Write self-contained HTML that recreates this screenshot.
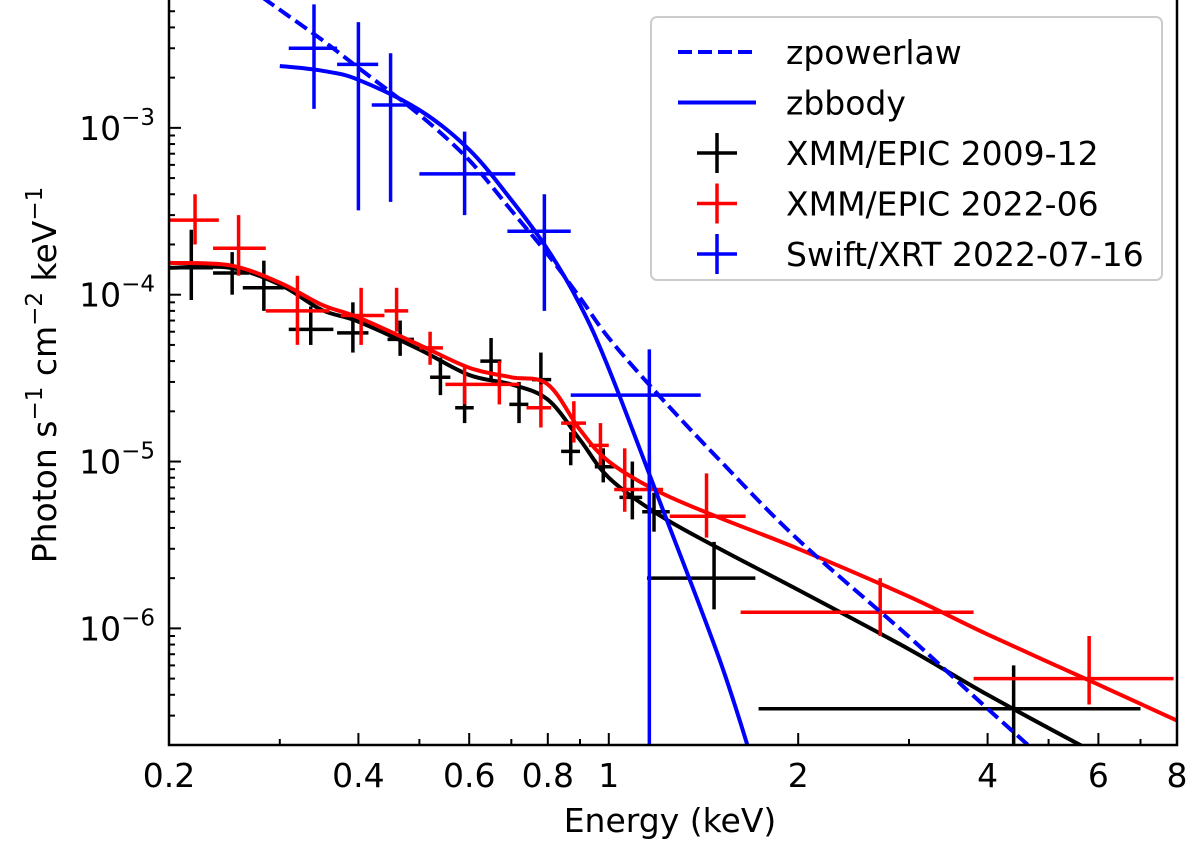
<!DOCTYPE html>
<html><head><meta charset="utf-8"><style>
html,body{margin:0;padding:0;background:#fff;}
svg text{font-family:"DejaVu Sans","Liberation Sans",sans-serif;}
</style></head><body>
<svg id="chart" width="1200" height="847" viewBox="0 0 1200 847" xmlns="http://www.w3.org/2000/svg">
<defs><clipPath id="clip"><rect x="169" y="0" width="1008" height="745"/></clipPath></defs>
<g id="plot" clip-path="url(#clip)"></g>
<g id="axes"></g>
<g id="legend"></g>
</svg>
<script>
// ---- data ----
const blackX=[0.217,0.252,0.283,0.336,0.392,0.466,0.54,0.59,0.65,0.72,0.78,0.87,0.98,1.09,1.18,1.47,4.4];
const blackXlo=[0.2,0.235,0.262,0.31,0.37,0.445,0.52,0.57,0.625,0.695,0.755,0.84,0.95,1.04,1.13,1.15,1.73];
const blackXhi=[0.235,0.268,0.305,0.365,0.415,0.49,0.56,0.61,0.675,0.745,0.81,0.9,1.02,1.13,1.25,1.71,7.0];
const blackY=[1.45e-4,1.35e-4,1.1e-4,6.2e-5,5.9e-5,5.4e-5,3.2e-5,2.1e-5,4.0e-5,2.2e-5,3.1e-5,1.15e-5,9.3e-6,6.1e-6,5.0e-6,2.0e-6,3.3e-7];
const blackYlo=[9.3e-5,1.0e-4,8.0e-5,5.0e-5,4.5e-5,4.3e-5,2.5e-5,1.7e-5,3.0e-5,1.7e-5,2.4e-5,9.5e-6,7.5e-6,4.5e-6,3.8e-6,1.3e-6,2.0e-7];
const blackYhi=[2.45e-4,1.8e-4,1.6e-4,8.5e-5,9.0e-5,7.0e-5,4.2e-5,2.8e-5,5.5e-5,3.0e-5,4.5e-5,1.5e-5,1.2e-5,1.0e-5,6.5e-6,3.3e-6,6.0e-7];
const redX=[0.22,0.258,0.32,0.404,0.46,0.52,0.59,0.67,0.78,0.88,0.97,1.06,1.16,1.43,2.7,5.8];
const redXlo=[0.2,0.235,0.285,0.375,0.44,0.5,0.55,0.63,0.74,0.84,0.93,1.02,1.12,1.25,1.62,3.8];
const redXhi=[0.24,0.285,0.36,0.44,0.48,0.545,0.63,0.72,0.81,0.92,1.0,1.12,1.22,1.65,3.8,7.9];
const redY=[2.8e-4,1.9e-4,8.0e-5,7.5e-5,8.0e-5,4.8e-5,2.9e-5,2.9e-5,2.1e-5,1.7e-5,1.25e-5,6.8e-6,6.8e-6,4.7e-6,1.25e-6,5.0e-7];
const redYlo=[2.0e-4,1.3e-4,5.0e-5,5.0e-5,6.0e-5,3.8e-5,2.2e-5,2.2e-5,1.6e-5,1.3e-5,9.5e-6,5.0e-6,5.0e-6,3.5e-6,9.0e-7,3.5e-7];
const redYhi=[4.0e-4,3.0e-4,1.3e-4,1.1e-4,1.1e-4,6.0e-5,3.8e-5,4.0e-5,2.9e-5,2.3e-5,1.7e-5,1.2e-5,1.1e-5,8.5e-6,2.0e-6,9.0e-7];
const blueX=[0.34,0.40,0.45,0.59,0.79,1.16];
const blueXlo=[0.31,0.37,0.42,0.5,0.69,0.87];
const blueXhi=[0.37,0.43,0.48,0.71,0.87,1.4];
const blueY=[3.0e-3,2.4e-3,1.37e-3,5.3e-4,2.4e-4,2.5e-5];
const blueYlo=[1.3e-3,3.2e-4,3.6e-4,3.0e-4,8.0e-5,1.0e-7];
const blueYhi=[5.5e-3,4.3e-3,2.8e-3,9.5e-4,4.0e-4,4.7e-5];
const plE=[0.25,0.3,0.35,0.4,0.5,0.6,0.7,0.8,0.9,1,1.2,1.5,2,3,4,6];
const plF=[8.3e-3,5.1e-3,3.37e-3,2.29e-3,1.2e-3,6.4e-4,3.2e-4,1.74e-4,9.6e-5,5.5e-5,2.5e-5,1.02e-5,3.4e-6,8.9e-7,3.3e-7,8.4e-8];
const bbE=[0.3,0.35,0.4,0.5,0.6,0.7,0.8,0.9,1,1.2,1.5,1.7];
const bbF=[2.35e-3,2.2e-3,1.94e-3,1.28e-3,7.4e-4,3.7e-4,1.86e-4,8.7e-5,3.6e-5,6e-6,6.5e-7,1.5e-7];
const mE=[0.2,0.25,0.3,0.35,0.4,0.5,0.6,0.7,0.8,0.9,1,1.2,1.5,2,3,4,6,8];
const blackModel=[1.45e-4,1.45e-4,1.15e-4,8.1e-5,6.9e-5,4.7e-5,3.3e-5,2.9e-5,2.35e-5,1.35e-5,8e-6,4.8e-6,3e-6,1.7e-6,7.5e-7,4e-7,1.75e-7,1.0e-7];
const redModel=[1.55e-4,1.5e-4,1.18e-4,8.7e-5,7.3e-5,5e-5,3.65e-5,3.2e-5,2.9e-5,1.55e-5,1e-5,6.6e-6,4.6e-6,3e-6,1.55e-6,9.2e-7,4.6e-7,2.8e-7];
const xTicks=[0.2,0.4,0.6,0.8,1,2,4,6,8];
const xTickLabels=["0.2","0.4","0.6","0.8","1","2","4","6","8"];
const yTickExp=[-3,-4,-5,-6];

// ---- axes ----
const X0=169,X1=1177,Y0=5,Y1=745;
const xmin=0.2,xmax=8,ymin=2e-7,ymax=5.45e-3;
const sx=v=>X0+(X1-X0)*Math.log10(v/xmin)/Math.log10(xmax/xmin);
const sy=v=>Y1-(Y1-Y0)*Math.log10(v/ymin)/Math.log10(ymax/ymin);
const NS="http://www.w3.org/2000/svg";
function mk(tag,attrs,parent){const e=document.createElementNS(NS,tag);for(const k in attrs)e.setAttribute(k,attrs[k]);parent.appendChild(e);return e;}
const plot=document.getElementById('plot'),axes=document.getElementById('axes'),leg=document.getElementById('legend');

function line(E,F,color,dash,name){
  const P=E.map((e,i)=>[sx(e),sy(F[i])]);
  let d='M'+P[0][0].toFixed(1)+','+P[0][1].toFixed(1);
  for(let i=0;i<P.length-1;i++){
    const p0=P[Math.max(0,i-1)],p1=P[i],p2=P[i+1],p3=P[Math.min(P.length-1,i+2)];
    const c1=[p1[0]+(p2[0]-p0[0])/6,p1[1]+(p2[1]-p0[1])/6];
    const c2=[p2[0]-(p3[0]-p1[0])/6,p2[1]-(p3[1]-p1[1])/6];
    d+='C'+c1[0].toFixed(1)+','+c1[1].toFixed(1)+' '+c2[0].toFixed(1)+','+c2[1].toFixed(1)+' '+p2[0].toFixed(1)+','+p2[1].toFixed(1);
  }
  const p=mk('path',{d:d,fill:'none',stroke:color,'stroke-width':4,'stroke-dasharray':dash||'none'},plot);
  
  
}
function errs(X,Xlo,Xhi,Y,Ylo,Yhi,color,name){
  for(let i=0;i<X.length;i++){
    const g=mk('g',{stroke:color,'stroke-width':3.5},plot);
    
    
    mk('line',{x1:sx(Xlo[i]),x2:sx(Xhi[i]),y1:sy(Y[i]),y2:sy(Y[i])},g);
    mk('line',{x1:sx(X[i]),x2:sx(X[i]),y1:sy(Ylo[i]),y2:sy(Yhi[i])},g);
  }
}
line(mE,blackModel,'#000',null,'xmm-2009-model');
errs(blackX,blackXlo,blackXhi,blackY,blackYlo,blackYhi,'#000','xmm-2009');
errs(redX,redXlo,redXhi,redY,redYlo,redYhi,'#ff0000','xmm-2022');
line(mE,redModel,'#ff0000',null,'xmm-2022-model');
errs(blueX,blueXlo,blueXhi,blueY,blueYlo,blueYhi,'#0000ff','swift-xrt');
line(plE,plF,'#0000ff','14 6','zpowerlaw-line');
line(bbE,bbF,'#0000ff',null,'zbbody-line');

// frame
const fr=mk('rect',{x:X0,y:-10,width:X1-X0,height:Y1+10,fill:'none',stroke:'#000','stroke-width':2.5},axes);

// x ticks
for(let d=0.2;d<=8.001;){
  const major=xTicks.some(t=>Math.abs(t-d)<1e-6);
  mk('line',{x1:sx(d),x2:sx(d),y1:Y1,y2:Y1-(major?12:6),stroke:'#000','stroke-width':2},axes);
  d = d<1-1e-9 ? Math.round((d+0.1)*10)/10 : Math.round(d+1);
}
xTicks.forEach((t,i)=>{const tx=mk('text',{x:sx(t),y:Y1+42,'font-size':33,'text-anchor':'middle'},axes);tx.textContent=xTickLabels[i];
  });
// y ticks
for(let e=-7;e<=-3;e++){for(let m=1;m<10;m++){const v=m*Math.pow(10,e);if(v<ymin||v>ymax)continue;
  mk('line',{x1:X0,x2:X0+(m==1?12:6),y1:sy(v),y2:sy(v),stroke:'#000','stroke-width':2},axes);}}
yTickExp.forEach(e=>{const tx=mk('text',{x:X0-14,y:sy(Math.pow(10,e))+12,'font-size':33,'text-anchor':'end'},axes);
  
  tx.innerHTML='10<tspan font-size="23" dy="-15">−'+(-e)+'</tspan>';});
const xl=mk('text',{x:(X0+X1)/2-3,y:832,'font-size':33,'text-anchor':'middle'},axes);xl.textContent='Energy (keV)';

const yl=mk('text',{x:0,y:0,'font-size':33,'text-anchor':'middle',transform:'translate(56,375) rotate(-90)'},axes);
yl.innerHTML='Photon s<tspan font-size="23" dy="-14">−1</tspan><tspan dy="14"> cm</tspan><tspan font-size="23" dy="-14">−2</tspan><tspan dy="14"> keV</tspan><tspan font-size="23" dy="-14">−1</tspan>';


// legend
const lb=mk('rect',{x:651,y:17,width:511,height:263,rx:6,fill:'#fff',stroke:'#ccc','stroke-width':2},leg);

const entries=[['zpowerlaw','#0000ff','line','14 6'],['zbbody','#0000ff','line',null],['XMM/EPIC 2009-12','#000','err'],['XMM/EPIC 2022-06','#ff0000','err'],['Swift/XRT 2022-07-16','#0000ff','err']];
entries.forEach((en,i)=>{const y=52+i*50.5;
  const g=mk('g',{},leg);
  if(en[2]=='line'){mk('line',{x1:678,x2:756,y1:y,y2:y,stroke:en[1],'stroke-width':4,'stroke-dasharray':en[3]||'none'},g);}
  else{mk('line',{x1:697,x2:737,y1:y,y2:y,stroke:en[1],'stroke-width':3.5},g);mk('line',{x1:717,x2:717,y1:y-20,y2:y+20,stroke:en[1],'stroke-width':3.5},g);}
  const t=mk('text',{x:786,y:y+12,'font-size':33},g);t.textContent=en[0];});
</script>
</body></html>
